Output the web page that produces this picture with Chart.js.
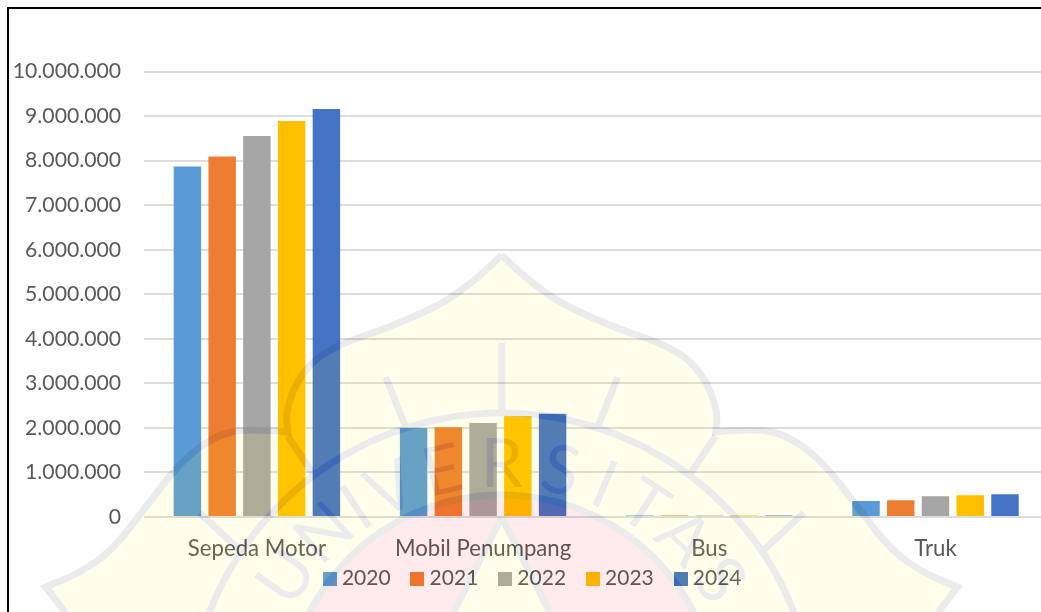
<!DOCTYPE html>
<html>
<head>
<meta charset="utf-8">
<script src="https://cdn.jsdelivr.net/npm/chart.js@4"></script>
<style>
  html, body { margin: 0; padding: 0; background: #fff; overflow: hidden; }
  #wrap { position: relative; width: 1041px; height: 612px; overflow: hidden; }
  #chart-kendaraan { position: absolute; left: 0; top: 0; }
  #frame { position: absolute; left: 7px; top: 7px; width: 1100px; height: 700px; border: 2px solid #000; }
</style>
</head>
<body>
<div id="wrap">
  <canvas id="chart-kendaraan" width="1080" height="612"></canvas>
  <div id="frame"></div>
</div>
<script>
const categories = ['Sepeda Motor', 'Mobil Penumpang', 'Bus', 'Truk'];
const years = ['2020', '2021', '2022', '2023', '2024'];
const values2020 = [7870000, 2000000, 35000, 360000];
const values2021 = [8090000, 2015000, 35000, 375000];
const values2022 = [8550000, 2110000, 35000, 465000];
const values2023 = [8890000, 2260000, 35000, 490000];
const values2024 = [9160000, 2320000, 35000, 510000];
const seriesValues = [values2020, values2021, values2022, values2023, values2024];
const seriesColors = ['#5b9bd5', '#ed7d31', '#a5a5a5', '#ffc000', '#4472c4'];
const yMax = 10000000;
const yStep = 1000000;

const FONT = 'Lato, Carlito, sans-serif';
const TEXT = '#595959';

// legend square, drawn as an image so the gap to the text stays small
function swatch(color) {
  const c = document.createElement('canvas');
  c.width = 14;
  c.height = 14;
  const g = c.getContext('2d');
  g.fillStyle = color;
  g.fillRect(0, 0, 14, 14);
  return c;
}

// background logo (not data): right half of the outline, mirrored on axisX
const axisX = 501.7;
const outlineTop = [[0, 255], [38, 293], [105, 325], [171, 347], [201, 373], [216, 410], [214, 432]];
const outlineLobe = [[214, 432], [256, 428], [289, 437], [322, 463], [356, 507], [389, 550], [422, 573], [456, 587]];
const outlineFoot = [[456, 587], [436, 612], [420, 640]];
const rays = [
  [[0, 343], [0, 410]],
  [[116, 377], [96, 427]],
  [[214, 436], [189, 473]],
  [[302, 513], [262, 550]],
  [[0, 517], [48, 612]]
];
const ringLetters = [['U', -55], ['N', -42.5], ['I', -33.5], ['V', -25], ['E', -13], ['R', 0], ['S', 13], ['I', 23], ['T', 33], ['A', 44], ['S', 56]];

function curve(g, pts, side, start) {
  const px = p => axisX + side * p[0];
  if (start) g.moveTo(px(pts[0]), pts[0][1]); else g.lineTo(px(pts[0]), pts[0][1]);
  for (let i = 1; i < pts.length - 1; i++) {
    const mx = (pts[i][0] + pts[i + 1][0]) / 2;
    const my = (pts[i][1] + pts[i + 1][1]) / 2;
    g.quadraticCurveTo(px(pts[i]), pts[i][1], px([mx]), my);
  }
  const last = pts[pts.length - 1];
  g.lineTo(px(last), last[1]);
}

function outlinePath(g) {
  g.beginPath();
  [1, -1].forEach(side => {
    curve(g, outlineTop, side, true);
    curve(g, outlineLobe, side, false);
    curve(g, outlineFoot, side, false);
  });
}

function buildWatermark() {
  const c = document.createElement('canvas');
  c.width = 1080;
  c.height = 612;
  const g = c.getContext('2d');

  // yellow body
  g.beginPath();
  [1, -1].forEach(side => {
    curve(g, outlineTop, side, true);
    curve(g, outlineLobe, side, false);
    curve(g, outlineFoot, side, false);
    g.lineTo(axisX, 640);
    g.lineTo(axisX, 255);
    g.closePath();
  });
  g.fillStyle = 'rgba(255,255,0,0.08)';
  g.fill();

  // pink disc with the yellow petal in it
  const knock = draw => {
    g.globalCompositeOperation = 'destination-out';
    g.fillStyle = '#000';
    g.strokeStyle = '#000';
    draw();
    g.globalCompositeOperation = 'source-over';
  };
  const disc = () => { g.beginPath(); g.arc(axisX, 711, 214, 0, Math.PI * 2); };
  knock(() => { disc(); g.fill(); });
  disc();
  g.fillStyle = 'rgba(255,0,0,0.08)';
  g.fill();
  const petal = () => {
    g.beginPath();
    g.moveTo(axisX, 517);
    g.quadraticCurveTo(axisX + 20, 560, axisX + 50, 612);
    g.lineTo(axisX - 50, 612);
    g.quadraticCurveTo(axisX - 20, 560, axisX, 517);
    g.closePath();
  };
  knock(() => { petal(); g.fill(); });
  petal();
  g.fillStyle = 'rgba(255,255,0,0.08)';
  g.fill();

  // grey line work, knocked out of the tints first
  const strokes = () => {
    g.lineWidth = 7;
    g.lineJoin = 'miter';
    outlinePath(g);
    g.stroke();
    g.beginPath();
    g.arc(axisX, 727, 314, 0, Math.PI * 2);
    g.moveTo(axisX + 216, 711);
    g.arc(axisX, 711, 216, 0, Math.PI * 2);
    rays.forEach(r => {
      [1, -1].forEach(side => {
        g.moveTo(axisX + side * r[0][0], r[0][1]);
        g.lineTo(axisX + side * r[1][0], r[1][1]);
      });
    });
    g.stroke();
  };
  knock(strokes);
  g.strokeStyle = 'rgba(0,0,0,0.08)';
  strokes();

  const letters = () => {
    g.font = '68px Lato, sans-serif';
    g.textAlign = 'center';
    g.textBaseline = 'alphabetic';
    ringLetters.forEach(l => {
      g.save();
      g.translate(axisX, 727);
      g.rotate(l[1] * Math.PI / 180);
      g.fillText(l[0], 0, -240);
      g.restore();
    });
  };
  knock(letters);
  g.fillStyle = 'rgba(0,0,0,0.08)';
  letters();
  return c;
}

const watermark = {
  id: 'watermark',
  beforeDraw(chart) {
    chart.ctx.save();
    chart.ctx.fillStyle = '#fff';
    chart.ctx.fillRect(0, 0, chart.width, chart.height);
    chart.ctx.restore();
  },
  afterDraw(chart) {
    chart.ctx.drawImage(buildWatermark(), 0, 0);
  }
};

// legend sits closer to the axis labels than chart.js would place it
const legendShift = {
  id: 'legendShift',
  afterLayout(chart) {
    const l = chart.legend;
    l.top -= 20;
    l.bottom -= 20;
    l.left += 10.4;
    l.right += 10.4;
  }
};

new Chart(document.getElementById('chart-kendaraan'), {
  type: 'bar',
  plugins: [watermark, legendShift],
  data: {
    labels: categories,
    datasets: years.map((year, i) => ({
      label: year,
      data: seriesValues[i],
      backgroundColor: seriesColors[i],
      categoryPercentage: 0.768,
      barPercentage: 0.79
    }))
  },
  options: {
    responsive: false,
    animation: false,
    layout: { padding: { top: 71.5, right: 31.4, bottom: -7, left: 0 } },
    plugins: {
      title: { display: false },
      tooltip: { enabled: false },
      legend: {
        position: 'bottom',
        labels: {
          usePointStyle: true,
          boxWidth: 3.5,
          boxHeight: 14,
          padding: 25,
          color: TEXT,
          font: { family: FONT, size: 21 },
          generateLabels: () => years.map((year, i) => ({
            text: year,
            fontColor: TEXT,
            fillStyle: seriesColors[i],
            lineWidth: 0,
            hidden: false,
            datasetIndex: i,
            pointStyle: swatch(seriesColors[i])
          }))
        }
      }
    },
    scales: {
      x: {
        grid: { display: false },
        border: { display: false },
        ticks: { color: TEXT, padding: 11, maxRotation: 0, font: { family: FONT, size: 22.2 } },
        afterFit(scale) { scale.height = 46; }
      },
      y: {
        min: 0,
        max: yMax,
        grid: { color: '#dcdcdc', lineWidth: 2, drawTicks: false },
        border: { display: false },
        ticks: {
          stepSize: yStep,
          color: TEXT,
          padding: 22.7,
          font: { family: FONT, size: 21.2 },
          callback: value => value.toLocaleString('de-DE')
        },
        afterFit(scale) { scale.width = 143.8; }
      }
    }
  }
});
</script>
</body>
</html>
